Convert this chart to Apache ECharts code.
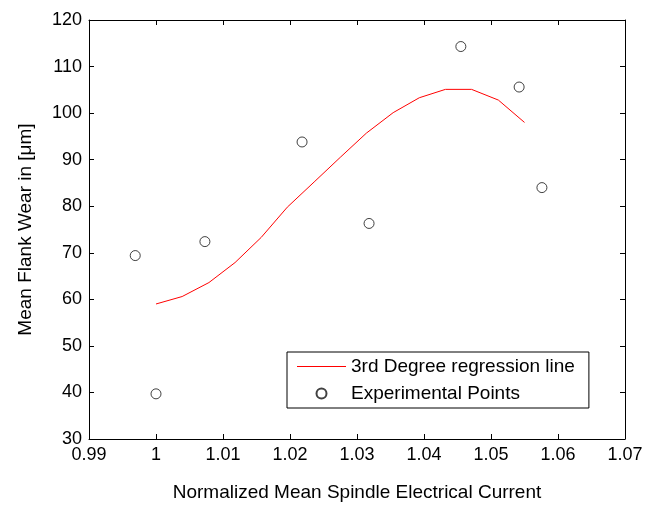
<!DOCTYPE html>
<html lang="en">
<head>
  <meta charset="UTF-8">
  <title>Flank wear vs spindle current</title>
  <script src="https://cdn.jsdelivr.net/npm/echarts@6/dist/echarts.min.js"></script>
  <style>
    html, body { margin: 0; padding: 0; background: #fff; }
  </style>
</head>
<body>
<div id="main" style="width: 656px;height:505px;"></div>
<script type="text/javascript">

// experimental points
var expX = [0.9969, 1.0000, 1.0073, 1.0218, 1.0318, 1.0455, 1.0542, 1.0576];
var expY = [69.4, 39.7, 72.4, 93.8, 76.3, 114.3, 105.6, 84.0];

// 3rd degree regression line
var fitX = [1.0000, 1.0039, 1.0079, 1.0118, 1.0157, 1.0196, 1.0236, 1.0275,
            1.0314, 1.0354, 1.0393, 1.0432, 1.0471, 1.0511, 1.0550];
var fitY = [59.0, 60.6, 63.6, 67.9, 73.3, 79.8, 85.2, 90.5,
            95.7, 100.1, 103.3, 105.1, 105.1, 102.8, 98.0];

var FONT = "'Liberation Sans', Arial, sans-serif";

function zip(a, b) {
  var out = [];
  for (var i = 0; i < a.length; i++) out.push([a[i], b[i]]);
  return out;
}

var myChart = echarts.init(document.getElementById('main'));

var axisLine = { show: true, lineStyle: { color: '#000', width: 1 } };
var tick = { show: true, inside: true, length: 5, lineStyle: { color: '#000' } };

var option = {
  animation: false,
  textStyle: { fontFamily: FONT, color: '#000' },
  grid: { left: 89, right: 31, top: 20, bottom: 66, outerBoundsMode: 'none' },
  legend: {
    orient: 'vertical',
    left: 287,
    top: 352,
    padding: [5, 14, 5, 10],
    borderColor: '#000',
    borderWidth: 1,
    backgroundColor: '#fff',
    itemWidth: 49,
    itemHeight: 10,
    itemGap: 8,
    textStyle: { fontFamily: FONT, fontSize: 19, color: '#000' },
    data: [
      // thin bar as the line sample, no marker
      { name: '3rd Degree regression line', icon: 'path://M0,0 L49,0 L49,1 L0,1 Z' },
      { name: 'Experimental Points' }
    ]
  },
  xAxis: [{
    type: 'value',
    min: 0.99, max: 1.07, interval: 0.01,
    name: 'Normalized Mean Spindle Electrical Current',
    nameLocation: 'middle',
    nameGap: 44,
    nameTextStyle: { fontFamily: FONT, fontSize: 19, color: '#000' },
    axisLine: axisLine,
    axisTick: tick,
    splitLine: { show: false },
    axisLabel: {
      fontFamily: FONT, fontSize: 18, color: '#000', margin: 7,
      formatter: function (v) { return String(parseFloat(v.toFixed(2))); }
    }
  }, {
    type: 'value',
    position: 'top',
    min: 0.99, max: 1.07, interval: 0.01,
    axisLine: axisLine,
    axisTick: tick,
    splitLine: { show: false },
    axisLabel: { show: false }
  }],
  yAxis: [{
    type: 'value',
    min: 30, max: 120, interval: 10,
    name: 'Mean Flank Wear in [\u03bcm]',
    nameLocation: 'middle',
    nameRotate: 90,
    nameGap: 54,
    nameTextStyle: { fontFamily: FONT, fontSize: 19, color: '#000' },
    axisLine: axisLine,
    axisTick: tick,
    splitLine: { show: false },
    axisLabel: { fontFamily: FONT, fontSize: 18, color: '#000', margin: 7 }
  }, {
    type: 'value',
    position: 'right',
    min: 30, max: 120, interval: 10,
    axisLine: axisLine,
    axisTick: tick,
    splitLine: { show: false },
    axisLabel: { show: false }
  }],
  series: [{
    name: '3rd Degree regression line',
    type: 'line',
    data: zip(fitX, fitY),
    showSymbol: false,
    symbol: 'none',
    color: '#ff0000',
    lineStyle: { color: '#ff0000', width: 1 }
  }, {
    name: 'Experimental Points',
    type: 'scatter',
    data: zip(expX, expY),
    symbol: 'circle',
    symbolSize: 10,
    itemStyle: { color: '#fff', borderColor: '#111', borderWidth: 1 }
  }]
};

myChart.setOption(option);

</script>
</body>
</html>
